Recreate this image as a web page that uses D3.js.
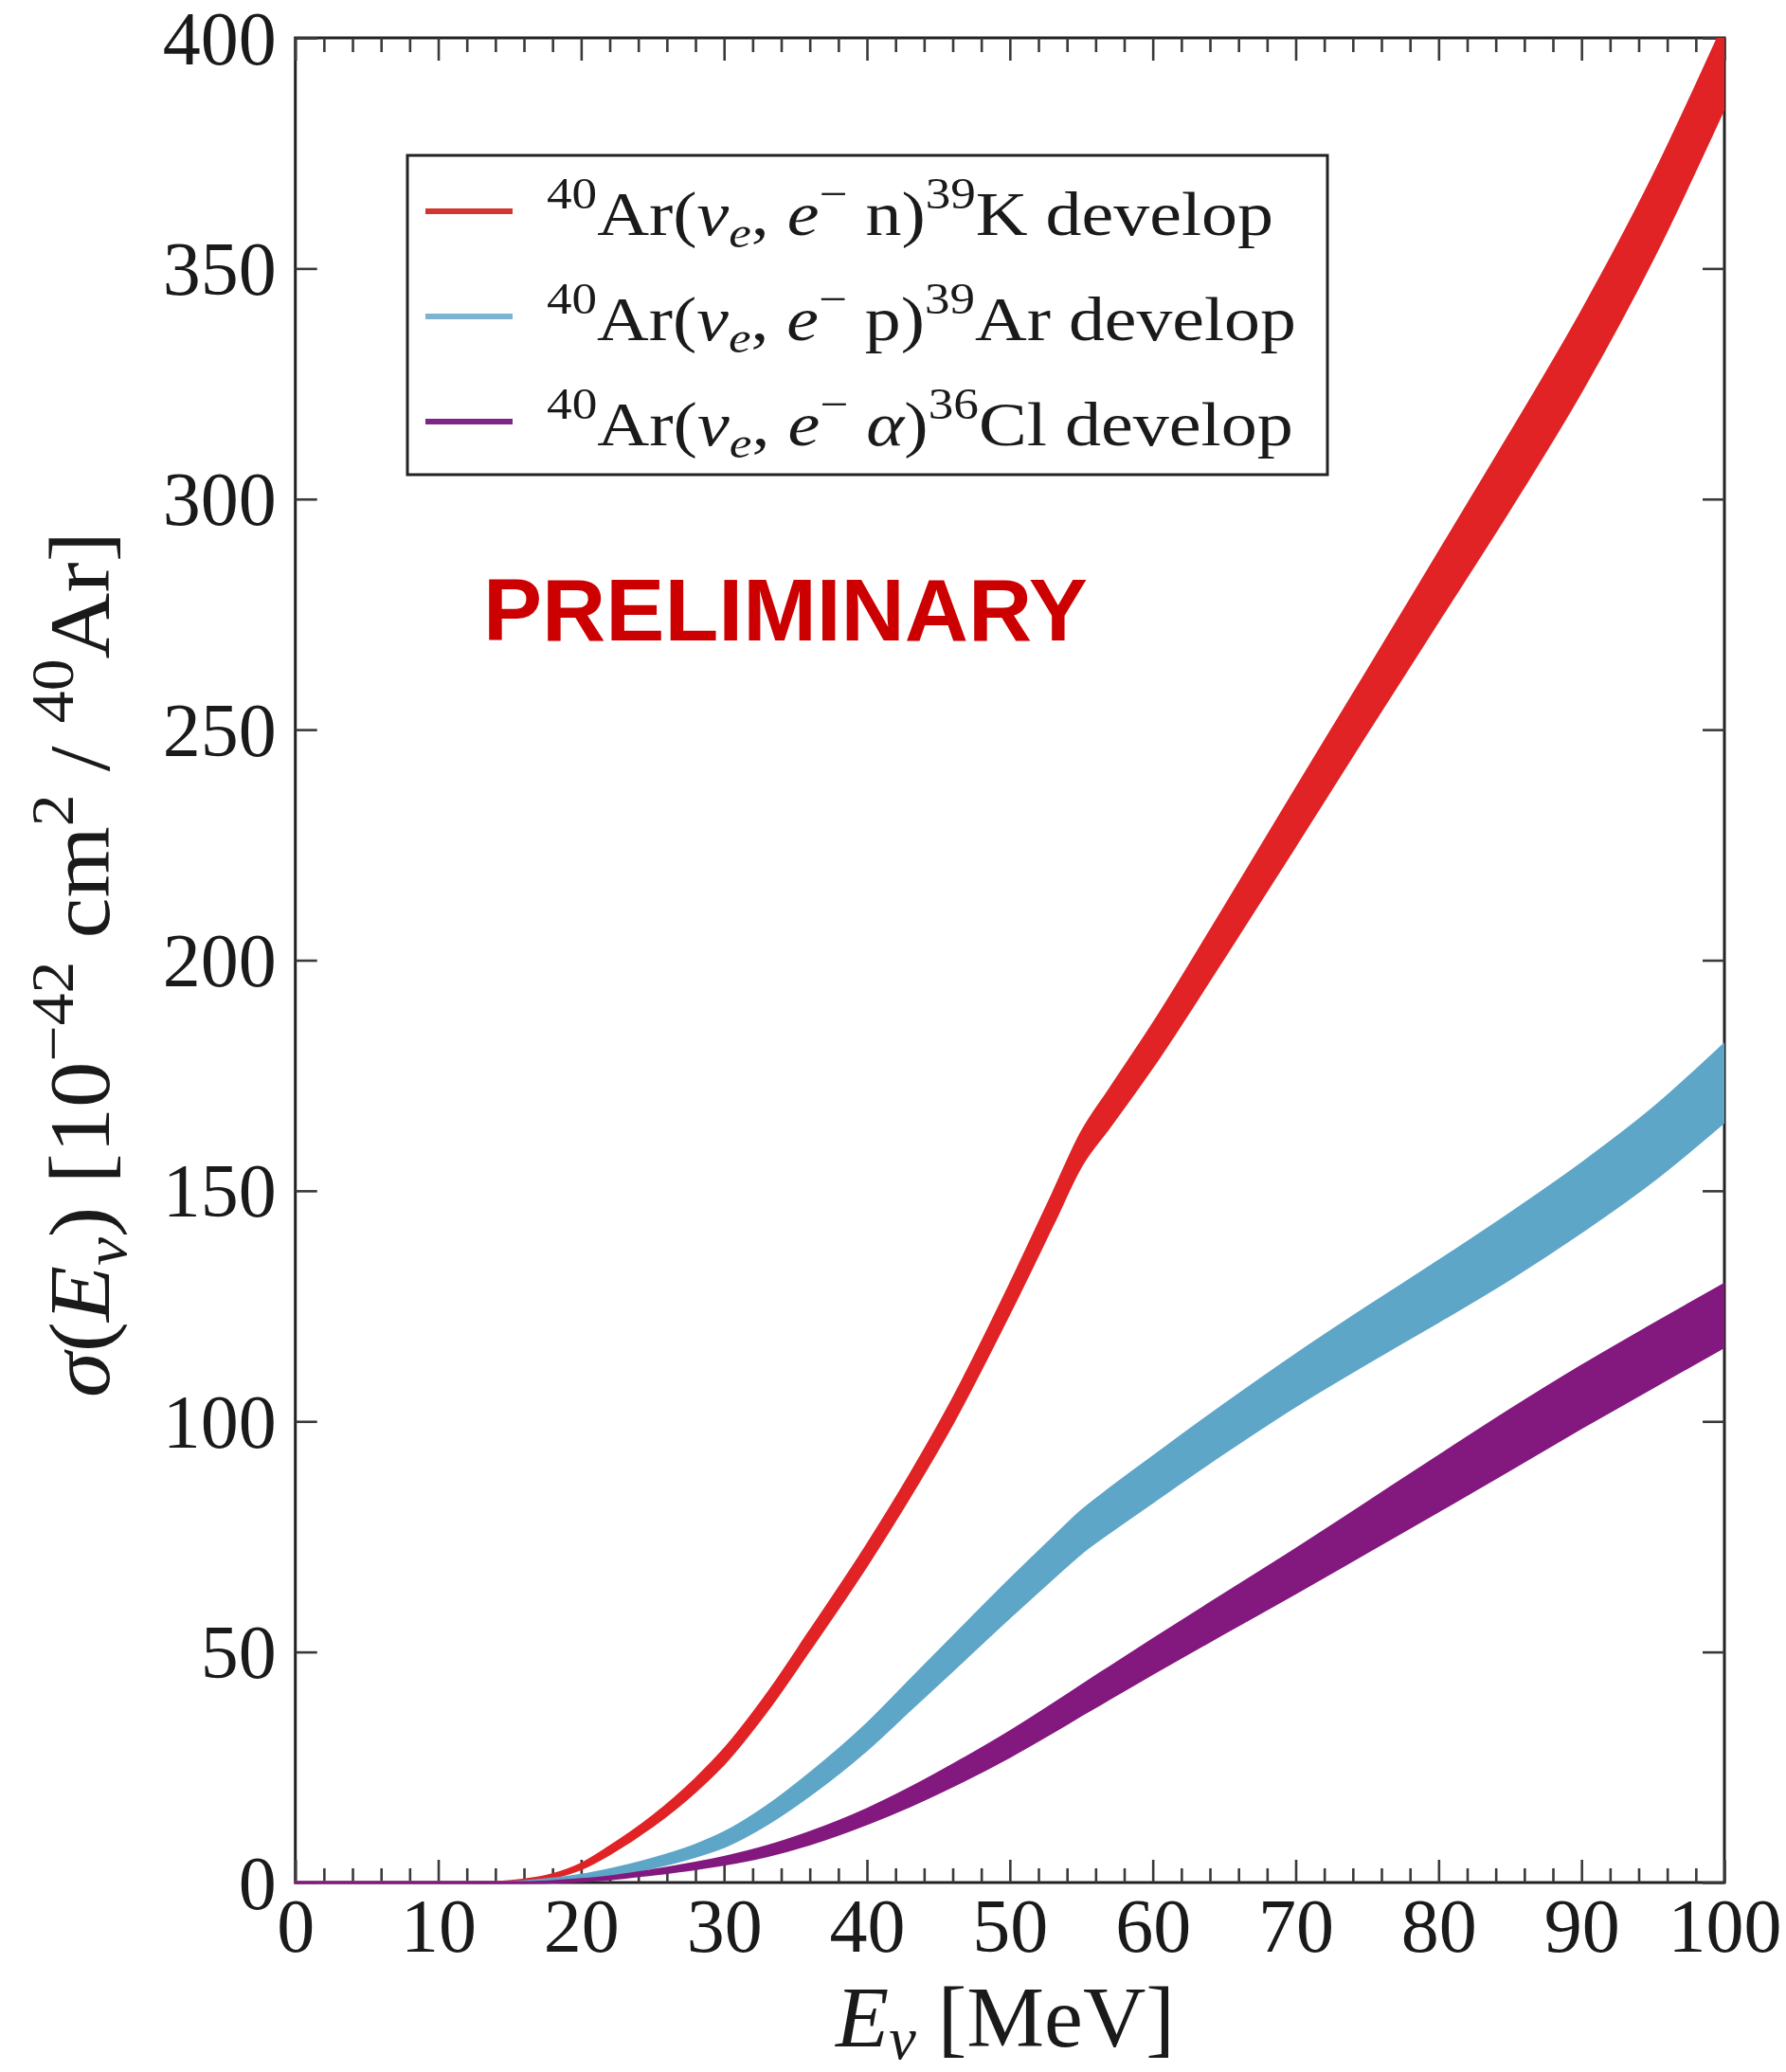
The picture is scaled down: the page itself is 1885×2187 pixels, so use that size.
<!DOCTYPE html>
<html>
<head>
<meta charset="utf-8">
<script src="https://cdn.jsdelivr.net/npm/d3@7"></script>
<style>
  html, body { margin: 0; padding: 0; background: #fff; }
  svg { display: block; }
</style>
</head>
<body>
<svg id="chart" width="1885" height="2187"></svg>
<script>
// Neutrino energy grid [MeV]
const energy = [0, 5, 10, 14, 16, 18, 20, 22, 25, 28, 30, 33, 36, 40, 43, 46, 50, 53, 55, 57, 60, 65, 70, 75, 80, 85, 90, 95, 100];

// 40Ar(nu_e, e- n)39K : lower / upper edge of the band [1e-42 cm^2]
const knLow  = [0, 0, 0, 0, 0.25, 1.1, 3.0, 6.25, 12.3, 19.8, 25.8, 37.3, 50.6, 68.9, 83.75, 99.7, 123.7, 142.75, 155.5, 164, 177, 200.75, 225, 249.5, 273.75, 298, 323.5, 352.25, 385];
const knHigh = [0, 0, 0, 0.05, 0.55, 1.7, 4.0, 7.75, 14.3, 22.4, 28.8, 40.7, 54.4, 73.1, 88.25, 104.7, 129.5, 149.25, 162.5, 172, 186, 211.25, 237, 262.5, 288.25, 314, 340.5, 369.75, 403];

// 40Ar(nu_e, e- p)39Ar
const pArLow  = [0, 0, 0, 0, 0, 0.25, 0.8, 1.6, 3.3, 5.7, 7.8, 12.7, 19.0, 28.85, 37.45, 46.05, 57.6, 66, 71.5, 76.05, 82.55, 93.25, 103.4, 112.7, 121.7, 131, 141.15, 152.2, 165];
const pArHigh = [0, 0, 0, 0, 0.2, 0.75, 1.6, 2.8, 5.1, 8.1, 10.8, 16.5, 23.6, 34.35, 43.75, 53.15, 65.6, 74.6, 80.5, 85.35, 92.25, 103.55, 114.4, 124.7, 134.7, 145, 155.85, 167.8, 181.8];

// 40Ar(nu_e, e- alpha)36Cl
const aClLow  = [0, 0, 0, 0, 0, 0.1, 0.35, 0.75, 1.8, 3.0, 3.95, 5.8, 8.35, 12.75, 16.6, 20.95, 27.35, 32.65, 36.35, 39.95, 45.35, 54.15, 62.8, 71.7, 80.6, 89.6, 98.65, 107.45, 116.25];
const aClHigh = [0, 0, 0, 0, 0, 0.2, 0.65, 1.25, 2.6, 4.2, 5.45, 7.8, 10.85, 15.85, 20.4, 25.45, 32.65, 38.55, 42.65, 46.65, 52.65, 62.45, 72.2, 82.3, 92.4, 102.4, 111.95, 120.95, 129.75];

// Axis ticks
const xMajorTicks = [0, 10, 20, 30, 40, 50, 60, 70, 80, 90, 100];
const xMinorTicks = d3.range(0, 101, 2).filter(v => v % 10 !== 0);
const yMajorTicks = [0, 50, 100, 150, 200, 250, 300, 350, 400];

const seriesNames = ["kn", "pAr", "aCl"];
const seriesLow  = [knLow, pArLow, aClLow];
const seriesHigh = [knHigh, pArHigh, aClHigh];
const bandColors   = ["#e12325", "#5ea6c8", "#83187f"];
const legendColors = ["#d3362f", "#7db3d1", "#7c2787"];

const W = 1885, H = 2187;
const plot = { left: 311.7, right: 1820, top: 40, bottom: 1987 };

const svg = d3.select("#chart");
svg.append("rect").attr("width", W).attr("height", H).attr("fill", "#fff");

const x = d3.scaleLinear().domain([0, 100]).range([plot.left, plot.right]);
const y = d3.scaleLinear().domain([0, 400]).range([plot.bottom, plot.top]);

const serif = "'Liberation Serif', 'DejaVu Serif', 'Times New Roman', serif";
const ink = "#1a1a1a";

// Frame
svg.append("rect")
  .attr("x", plot.left).attr("y", plot.top)
  .attr("width", plot.right - plot.left).attr("height", plot.bottom - plot.top)
  .attr("fill", "none").attr("stroke", "#222").attr("stroke-width", 3);

// Inward ticks on all four sides
function tickLayer(axis, tx, ty) {
  const g = svg.append("g").attr("transform", `translate(${tx},${ty})`).call(axis);
  g.select(".domain").remove();
  g.selectAll(".tick line").attr("stroke", "#3a3a3a").attr("stroke-width", 2.6);
  return g;
}
const noLabel = () => "";
tickLayer(d3.axisBottom(x).tickValues(xMinorTicks).tickSize(-15).tickFormat(noLabel), 0, plot.bottom);
tickLayer(d3.axisTop(x).tickValues(xMinorTicks).tickSize(-15).tickFormat(noLabel), 0, plot.top);
tickLayer(d3.axisTop(x).tickValues(xMajorTicks).tickSize(-24).tickFormat(noLabel), 0, plot.top);
tickLayer(d3.axisRight(y).tickValues(yMajorTicks).tickSize(-23).tickFormat(noLabel), plot.right, 0);

const xAxis = tickLayer(d3.axisBottom(x).tickValues(xMajorTicks).tickSize(-24).tickFormat(d3.format("d")), 0, plot.bottom);
xAxis.selectAll(".tick text")
  .attr("y", 73).attr("dy", 0)
  .attr("font-family", serif).attr("font-size", 80).attr("fill", ink);

const yAxis = tickLayer(d3.axisLeft(y).tickValues(yMajorTicks).tickSize(-23).tickPadding(20).tickFormat(d3.format("d")), plot.left, 0);
yAxis.selectAll(".tick text")
  .attr("dy", "0.338em")
  .attr("font-family", serif).attr("font-size", 80).attr("fill", ink);

// Uncertainty bands
const defs = svg.append("defs");
defs.append("clipPath").attr("id", "plotClip")
  .append("rect")
  .attr("x", plot.left - 4).attr("y", plot.top)
  .attr("width", plot.right - plot.left + 4).attr("height", plot.bottom - plot.top + 4);

const area = d3.area()
  .x(d => x(d.e))
  .y0(d => y(d.lo))
  .y1(d => y(d.hi))
  .curve(d3.curveMonotoneX);

const bands = svg.append("g").attr("clip-path", "url(#plotClip)");
seriesNames.forEach((name, i) => {
  const rows = energy.map((e, k) => ({ e, lo: seriesLow[i][k], hi: seriesHigh[i][k] }));
  bands.append("path")
    .datum(rows)
    .attr("class", "band band-" + name)
    .attr("d", area)
    .attr("fill", bandColors[i])
    .attr("stroke", bandColors[i])
    .attr("stroke-width", 3)
    .attr("stroke-linejoin", "round");
});

// Rich text with super/subscripts
function richText(sel, parts, fs, subShift = 0.2) {
  let cur = 0;
  parts.forEach(p => {
    const target = p.s === "sup" ? -0.42 * fs : (p.s === "sub" ? subShift * fs : 0);
    const ts = sel.append("tspan").text(p.t).attr("dy", target - cur);
    cur = target;
    if (p.s) ts.attr("font-size", fs * 0.7);
    if (p.i) ts.attr("font-style", "italic");
  });
  return sel;
}
function fitWidth(textSel, targetW) {
  const w = textSel.node().getBBox().width;
  textSel.attr("transform", `scale(${targetW / w},1)`);
}

// Legend
const legendLabels = [
  [{t: "40", s: "sup"}, {t: "Ar("}, {t: "ν", i: 1}, {t: "e", i: 1, s: "sub"}, {t: ", "}, {t: "e", i: 1}, {t: "−", s: "sup"}, {t: " n)"}, {t: "39", s: "sup"}, {t: "K develop"}],
  [{t: "40", s: "sup"}, {t: "Ar("}, {t: "ν", i: 1}, {t: "e", i: 1, s: "sub"}, {t: ", "}, {t: "e", i: 1}, {t: "−", s: "sup"}, {t: " p)"}, {t: "39", s: "sup"}, {t: "Ar develop"}],
  [{t: "40", s: "sup"}, {t: "Ar("}, {t: "ν", i: 1}, {t: "e", i: 1, s: "sub"}, {t: ", "}, {t: "e", i: 1}, {t: "−", s: "sup"}, {t: " "}, {t: "α", i: 1}, {t: ")"}, {t: "36", s: "sup"}, {t: "Cl develop"}]
];
const legendWidths = [767, 791, 788];
const legend = svg.append("g");
legend.append("rect")
  .attr("x", 430).attr("y", 164).attr("width", 971).attr("height", 337)
  .attr("fill", "#fff").attr("stroke", "#222").attr("stroke-width", 3);
legendLabels.forEach((parts, i) => {
  const cy = 223 + i * 111;
  legend.append("line")
    .attr("x1", 449).attr("x2", 541).attr("y1", cy).attr("y2", cy)
    .attr("stroke", legendColors[i]).attr("stroke-width", 6);
  const g = legend.append("g").attr("transform", `translate(577,${cy + 25})`);
  const t = g.append("text").attr("font-family", serif).attr("font-size", 66).attr("fill", ink);
  richText(t, parts, 66);
  fitWidth(t, legendWidths[i]);
});

// Watermark
const pg = svg.append("g").attr("transform", "translate(510,676)");
const pt = pg.append("text")
  .attr("font-family", "'Liberation Sans', Arial, Helvetica, sans-serif")
  .attr("font-weight", "bold").attr("font-size", 93).attr("fill", "#cc0000")
  .text("PRELIMINARY");
fitWidth(pt, 638);

// Axis titles
const xt = svg.append("g").attr("transform", "translate(882,2160)")
  .append("text").attr("font-family", serif).attr("font-size", 90).attr("fill", ink);
richText(xt, [{t: "E", i: 1}, {t: "ν", i: 1, s: "sub"}, {t: " [MeV]"}], 90, 0.14);
fitWidth(xt, 360);

const yt = svg.append("g").attr("transform", "translate(115,1475) rotate(-90)")
  .append("text").attr("font-family", serif).attr("font-size", 90).attr("fill", ink);
richText(yt, [
  {t: "σ", i: 1}, {t: "("}, {t: "E", i: 1}, {t: "ν", i: 1, s: "sub"}, {t: ") [10"},
  {t: "−42", s: "sup"}, {t: " cm"}, {t: "2", s: "sup"}, {t: " / "}, {t: "40", s: "sup"}, {t: "Ar]"}
], 90);
fitWidth(yt, 914);
</script>
</body>
</html>
